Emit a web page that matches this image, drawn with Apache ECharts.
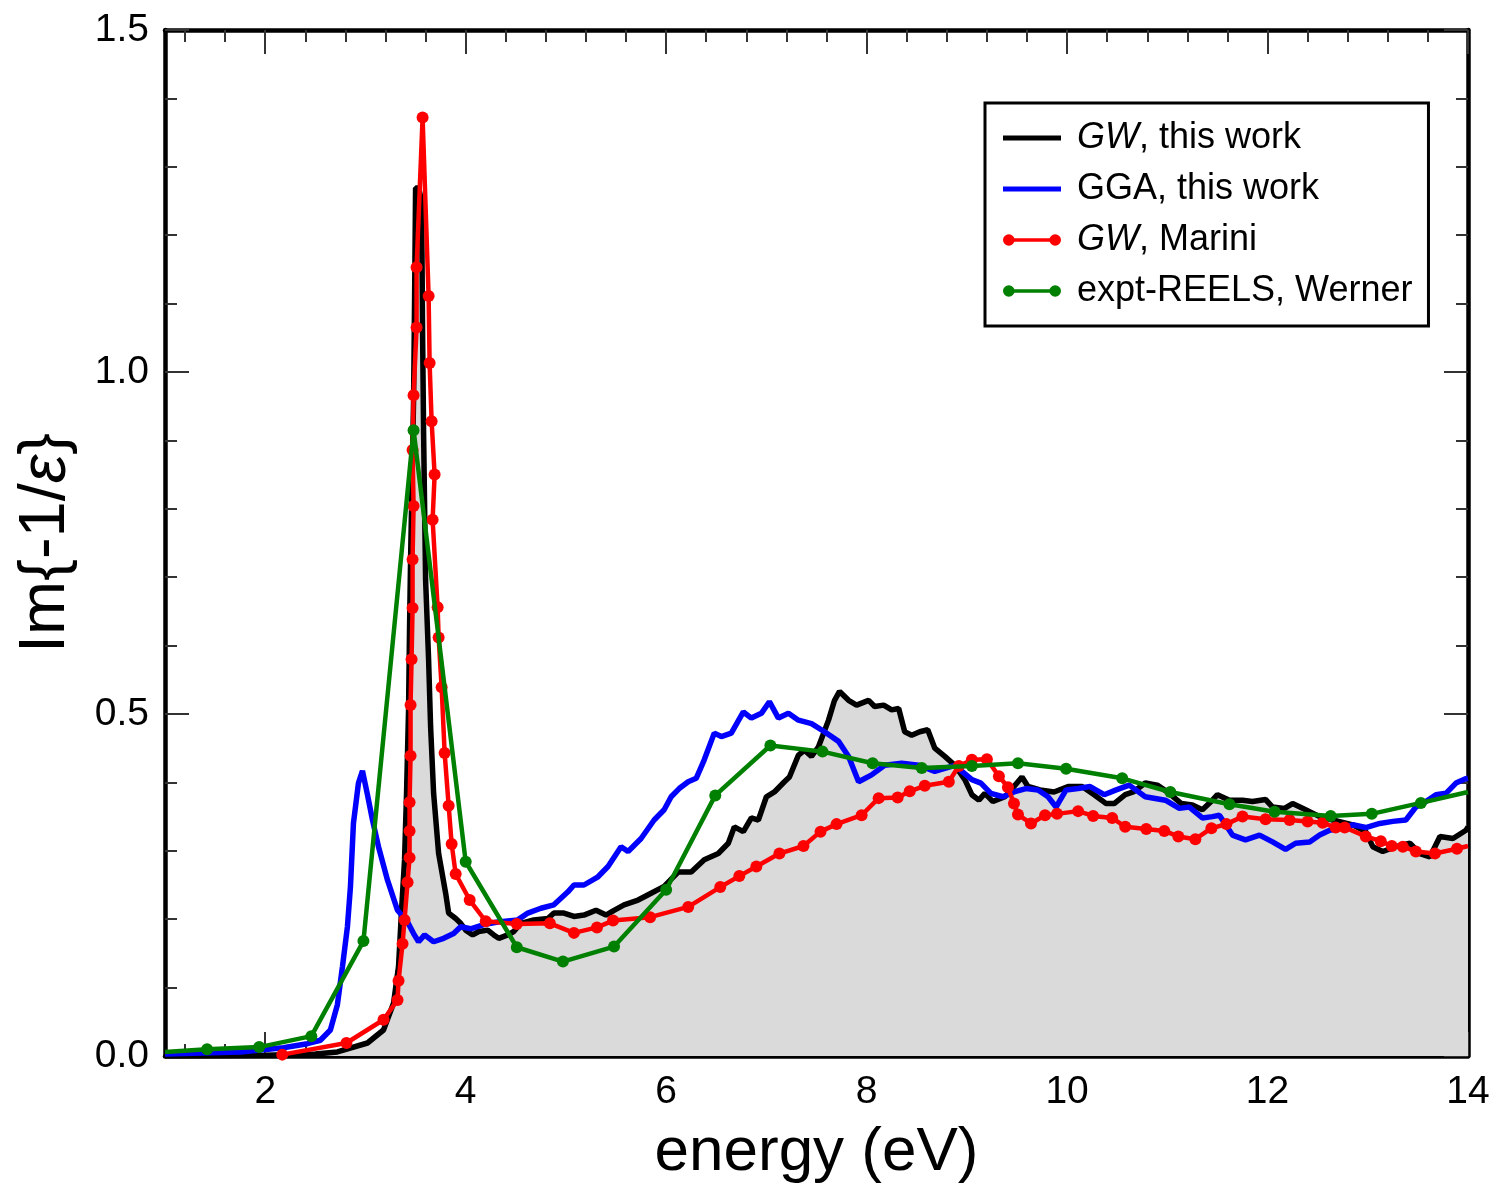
<!DOCTYPE html>
<html>
<head>
<meta charset="utf-8">
<script src="https://cdn.jsdelivr.net/npm/echarts@6/dist/echarts.min.js"></script>
<style>html,body{margin:0;padding:0;background:#fff;}#c{width:1499px;height:1191px;}</style>
</head>
<body>
<div id="c"></div>
<script>
// ---- data ----
const gwThisWorkE = [1.0, 2.0, 2.5, 2.72, 3.02, 3.18, 3.28, 3.33, 3.36, 3.39, 3.41, 3.43, 3.44, 3.45, 3.48, 3.49, 3.50, 3.53, 3.56, 3.57, 3.58, 3.60, 3.63, 3.65, 3.68, 3.73, 3.80, 3.83, 3.90, 3.95, 4.00, 4.07, 4.13, 4.22, 4.28, 4.33, 4.42, 4.48, 4.55, 4.68, 4.82, 4.88, 4.98, 5.08, 5.18, 5.30, 5.40, 5.48, 5.58, 5.72, 5.85, 5.98, 6.12, 6.25, 6.38, 6.52, 6.62, 6.68, 6.77, 6.85, 6.92, 7.00, 7.08, 7.18, 7.23, 7.32, 7.38, 7.45, 7.52, 7.62, 7.68, 7.73, 7.82, 7.90, 8.02, 8.08, 8.17, 8.25, 8.32, 8.38, 8.45, 8.53, 8.61, 8.68, 8.78, 8.88, 8.98, 9.05, 9.12, 9.18, 9.26, 9.38, 9.47, 9.55, 9.61, 9.73, 9.87, 10.01, 10.15, 10.27, 10.39, 10.47, 10.58, 10.66, 10.78, 10.90, 11.02, 11.14, 11.25, 11.35, 11.45, 11.50, 11.62, 11.75, 11.85, 11.98, 12.05, 12.17, 12.25, 12.38, 12.52, 12.65, 12.85, 12.98, 13.05, 13.15, 13.28, 13.42, 13.52, 13.62, 13.72, 13.85, 13.98, 14.0];
const gwThisWorkIm = [0.0, 0.001, 0.003, 0.006, 0.019, 0.038, 0.077, 0.131, 0.213, 0.287, 0.385, 0.506, 0.628, 0.725, 0.959, 1.105, 1.269, 1.269, 1.251, 1.057, 0.911, 0.696, 0.579, 0.481, 0.384, 0.296, 0.238, 0.209, 0.201, 0.194, 0.184, 0.177, 0.182, 0.184, 0.177, 0.172, 0.177, 0.182, 0.194, 0.199, 0.201, 0.209, 0.209, 0.204, 0.206, 0.213, 0.206, 0.213, 0.221, 0.228, 0.238, 0.248, 0.269, 0.269, 0.287, 0.296, 0.311, 0.335, 0.328, 0.348, 0.345, 0.379, 0.386, 0.401, 0.408, 0.440, 0.447, 0.438, 0.452, 0.491, 0.520, 0.533, 0.520, 0.513, 0.520, 0.511, 0.513, 0.506, 0.508, 0.474, 0.469, 0.474, 0.477, 0.450, 0.438, 0.425, 0.404, 0.382, 0.374, 0.384, 0.372, 0.379, 0.394, 0.408, 0.394, 0.389, 0.386, 0.394, 0.394, 0.382, 0.369, 0.369, 0.382, 0.386, 0.399, 0.396, 0.384, 0.369, 0.367, 0.360, 0.374, 0.382, 0.374, 0.374, 0.372, 0.375, 0.364, 0.362, 0.369, 0.360, 0.350, 0.345, 0.338, 0.328, 0.306, 0.299, 0.306, 0.311, 0.296, 0.291, 0.321, 0.318, 0.330, 0.335];

const ggaThisWorkE = [1.0, 1.75, 2.18, 2.42, 2.55, 2.65, 2.72, 2.77, 2.82, 2.85, 2.88, 2.93, 2.97, 3.02, 3.07, 3.13, 3.22, 3.32, 3.42, 3.48, 3.53, 3.59, 3.68, 3.78, 3.88, 3.95, 4.05, 4.18, 4.32, 4.52, 4.62, 4.75, 4.88, 5.02, 5.08, 5.18, 5.32, 5.42, 5.55, 5.62, 5.75, 5.88, 5.98, 6.05, 6.13, 6.22, 6.30, 6.38, 6.48, 6.55, 6.65, 6.77, 6.85, 6.95, 7.03, 7.12, 7.22, 7.32, 7.45, 7.58, 7.72, 7.82, 7.92, 8.05, 8.18, 8.35, 8.52, 8.68, 8.88, 9.05, 9.14, 9.24, 9.36, 9.47, 9.59, 9.71, 9.81, 9.89, 9.99, 10.11, 10.23, 10.37, 10.49, 10.62, 10.78, 10.98, 11.12, 11.22, 11.35, 11.45, 11.52, 11.65, 11.78, 11.92, 12.05, 12.18, 12.28, 12.42, 12.52, 12.62, 12.75, 12.85, 12.98, 13.12, 13.25, 13.38, 13.48, 13.58, 13.68, 13.78, 13.88, 13.97, 14.0];
const ggaThisWorkIm = [0.003, 0.006, 0.012, 0.018, 0.023, 0.038, 0.075, 0.130, 0.189, 0.247, 0.340, 0.399, 0.417, 0.382, 0.345, 0.306, 0.257, 0.213, 0.196, 0.179, 0.167, 0.177, 0.167, 0.172, 0.179, 0.189, 0.186, 0.192, 0.196, 0.199, 0.209, 0.216, 0.221, 0.240, 0.250, 0.250, 0.262, 0.277, 0.306, 0.299, 0.318, 0.345, 0.360, 0.379, 0.391, 0.401, 0.406, 0.433, 0.472, 0.467, 0.472, 0.503, 0.494, 0.501, 0.518, 0.494, 0.501, 0.491, 0.486, 0.474, 0.460, 0.438, 0.401, 0.411, 0.425, 0.428, 0.425, 0.416, 0.425, 0.404, 0.399, 0.384, 0.379, 0.386, 0.391, 0.389, 0.379, 0.364, 0.389, 0.391, 0.394, 0.382, 0.389, 0.396, 0.379, 0.374, 0.362, 0.364, 0.348, 0.350, 0.352, 0.323, 0.316, 0.323, 0.313, 0.302, 0.311, 0.313, 0.323, 0.330, 0.334, 0.338, 0.334, 0.340, 0.343, 0.345, 0.364, 0.372, 0.382, 0.384, 0.399, 0.405, 0.406];

const gwMariniE = [2.17, 2.81, 3.18, 3.32, 3.33, 3.37, 3.39, 3.42, 3.44, 3.44, 3.44, 3.45, 3.45, 3.46, 3.47, 3.47, 3.48, 3.47, 3.48, 3.51, 3.51, 3.57, 3.63, 3.64, 3.66, 3.69, 3.67, 3.72, 3.73, 3.76, 3.79, 3.83, 3.86, 3.90, 4.04, 4.20, 4.51, 4.84, 5.08, 5.31, 5.47, 5.84, 6.22, 6.54, 6.73, 6.90, 7.13, 7.37, 7.54, 7.70, 7.95, 8.12, 8.31, 8.43, 8.58, 8.82, 8.92, 9.05, 9.20, 9.32, 9.41, 9.47, 9.51, 9.64, 9.78, 9.90, 10.11, 10.26, 10.45, 10.58, 10.79, 10.97, 11.11, 11.28, 11.44, 11.59, 11.75, 11.98, 12.22, 12.40, 12.55, 12.68, 12.77, 12.98, 13.13, 13.24, 13.35, 13.48, 13.67, 13.89, 14.0];
const gwMariniIm = [0.002, 0.019, 0.053, 0.082, 0.110, 0.164, 0.199, 0.254, 0.290, 0.329, 0.371, 0.439, 0.513, 0.580, 0.655, 0.726, 0.804, 0.886, 0.966, 1.065, 1.153, 1.372, 1.111, 1.013, 0.928, 0.850, 0.784, 0.656, 0.612, 0.539, 0.443, 0.366, 0.310, 0.266, 0.228, 0.197, 0.193, 0.194, 0.180, 0.188, 0.198, 0.203, 0.218, 0.247, 0.263, 0.277, 0.296, 0.307, 0.328, 0.339, 0.352, 0.377, 0.378, 0.387, 0.395, 0.401, 0.424, 0.433, 0.434, 0.409, 0.393, 0.369, 0.353, 0.340, 0.352, 0.354, 0.358, 0.351, 0.348, 0.335, 0.332, 0.329, 0.321, 0.317, 0.333, 0.339, 0.350, 0.346, 0.345, 0.343, 0.341, 0.334, 0.334, 0.321, 0.314, 0.307, 0.306, 0.299, 0.296, 0.303, 0.307];

const reelsWernerE = [1.0, 1.42, 1.94, 2.46, 2.98, 3.48, 4.00, 4.51, 4.97, 5.48, 6.00, 6.49, 7.04, 7.56, 8.06, 8.55, 9.05, 9.51, 9.99, 10.55, 11.03, 11.62, 12.07, 12.63, 13.04, 13.53, 14.0];
const reelsWernerIm = [0.006, 0.010, 0.013, 0.029, 0.168, 0.915, 0.284, 0.159, 0.138, 0.160, 0.243, 0.381, 0.454, 0.445, 0.428, 0.421, 0.424, 0.428, 0.420, 0.406, 0.386, 0.368, 0.357, 0.351, 0.354, 0.370, 0.386];

const xMajorTicks = [2, 4, 6, 8, 10, 12, 14];
const xMinorTicks = [1.2, 1.6, 2.4, 2.8, 3.2, 3.6, 4.4, 4.8, 5.2, 5.6, 6.4, 6.8, 7.2, 7.6, 8.4, 8.8, 9.2, 9.6, 10.4, 10.8, 11.2, 11.6, 12.4, 12.8, 13.2, 13.6];

const seriesNames = ['GW, this work', 'GGA, this work', 'GW, Marini', 'expt-REELS, Werner'];

// ---- build ----
const FONT = '"Liberation Sans", Arial, Helvetica, sans-serif';
function zip(xs, ys, edgeNoSymbol) {
  const n = Math.min(xs.length, ys.length);
  const out = [];
  for (let i = 0; i < n; i++) {
    const item = { value: [xs[i], ys[i]] };
    if (edgeNoSymbol && (xs[i] <= 1.0 || xs[i] >= 14.0)) item.symbol = 'none';
    out.push(item);
  }
  return out;
}

const lineIcon = 'path://M0,3.5 L60,3.5 L60,8.5 L0,8.5 Z';
const dotIcon = 'path://M6,4.3 L54,4.3 L54,7.7 L6,7.7 Z M0,6 A6,6 0 1,1 12,6 A6,6 0 1,1 0,6 Z M48,6 A6,6 0 1,1 60,6 A6,6 0 1,1 48,6 Z';

const tickStyle = { color: '#333', width: 2 };
function xAxisCfg(pos, major) {
  return {
    type: 'value', position: pos, min: 1, max: 14,
    axisLine: { show: major, onZero: false, lineStyle: { color: '#000', width: 4.5 } },
    axisTick: { show: true, inside: true, length: major ? 24 : 12, customValues: major ? xMajorTicks : xMinorTicks, lineStyle: tickStyle },
    axisLabel: (major && pos === 'bottom') ? { show: true, customValues: xMajorTicks, fontSize: 39, fontFamily: FONT, color: '#000', margin: 17 } : { show: false },
    splitLine: { show: false },
    name: (major && pos === 'bottom') ? 'energy (eV)' : '',
    nameLocation: 'middle', nameGap: 66,
    nameTextStyle: { fontSize: 62, fontFamily: FONT, color: '#000' }
  };
}
function yAxisCfg(pos) {
  const left = pos === 'left';
  return {
    type: 'value', position: pos, min: 0, max: 1.5, interval: 0.5,
    axisLine: { show: true, onZero: false, lineStyle: { color: '#000', width: 4.5 } },
    axisTick: { show: true, inside: true, length: 24, lineStyle: tickStyle },
    minorTick: { show: true, splitNumber: 5, length: 12, lineStyle: tickStyle },
    axisLabel: left ? { show: true, fontSize: 39, fontFamily: FONT, color: '#000', margin: 16, formatter: v => v.toFixed(1) } : { show: false },
    splitLine: { show: false }, minorSplitLine: { show: false },
    name: left ? 'Im{-1/{e|ε}}' : '',
    nameLocation: 'middle', nameGap: 86, nameRotate: 90,
    nameTextStyle: { fontSize: 65, fontFamily: FONT, color: '#000', rich: { e: { fontSize: 65, fontFamily: FONT, fontStyle: 'italic', color: '#000' } } }
  };
}

const chart = echarts.init(document.getElementById('c'), null, { renderer: 'canvas' });
chart.setOption({
  animation: false,
  backgroundColor: '#fff',
  grid: { left: 165, right: 31, top: 30, bottom: 135, containLabel: false },
  xAxis: [xAxisCfg('bottom', true), xAxisCfg('bottom', false), xAxisCfg('top', true), xAxisCfg('top', false)],
  yAxis: [yAxisCfg('left'), yAxisCfg('right')],
  legend: {
    orient: 'vertical', left: 985, top: 103,
    padding: [15, 16, 15, 18], itemGap: 11, itemWidth: 58, itemHeight: 12,
    borderColor: '#000', borderWidth: 3, backgroundColor: '#fff',
    textStyle: { fontSize: 36, fontFamily: FONT, color: '#000', lineHeight: 40, padding: [0, 0, 0, 11],
      rich: { i: { fontSize: 36, fontFamily: FONT, color: '#000', fontStyle: 'italic', lineHeight: 40 } } },
    formatter: n => n.replace(/^GW/, '{i|GW}'),
    data: [
      { name: seriesNames[0], icon: lineIcon },
      { name: seriesNames[1], icon: lineIcon },
      { name: seriesNames[2], icon: dotIcon },
      { name: seriesNames[3], icon: dotIcon }
    ]
  },
  series: [
    { name: seriesNames[0], type: 'line', xAxisIndex: 0, yAxisIndex: 0, data: zip(gwThisWorkE, gwThisWorkIm),
      showSymbol: false, symbol: 'none', color: '#000', lineStyle: { color: '#000', width: 5.5 },
      areaStyle: { color: '#dadada', opacity: 1 }, z: 2 },
    { name: seriesNames[1], type: 'line', xAxisIndex: 0, yAxisIndex: 0, data: zip(ggaThisWorkE, ggaThisWorkIm),
      showSymbol: false, symbol: 'none', color: '#0000ff', lineStyle: { color: '#0000ff', width: 5.5 }, z: 3 },
    { name: seriesNames[2], type: 'line', xAxisIndex: 0, yAxisIndex: 0, data: zip(gwMariniE, gwMariniIm, true),
      symbol: 'circle', symbolSize: 12, showAllSymbol: true, color: '#ff0000',
      itemStyle: { color: '#ff0000' }, lineStyle: { color: '#ff0000', width: 4.5 }, z: 4 },
    { name: seriesNames[3], type: 'line', xAxisIndex: 0, yAxisIndex: 0, data: zip(reelsWernerE, reelsWernerIm, true),
      symbol: 'circle', symbolSize: 12, showAllSymbol: true, color: '#008000',
      itemStyle: { color: '#008000' }, lineStyle: { color: '#008000', width: 4.5 }, z: 5 }
  ]
});
</script>
</body>
</html>
